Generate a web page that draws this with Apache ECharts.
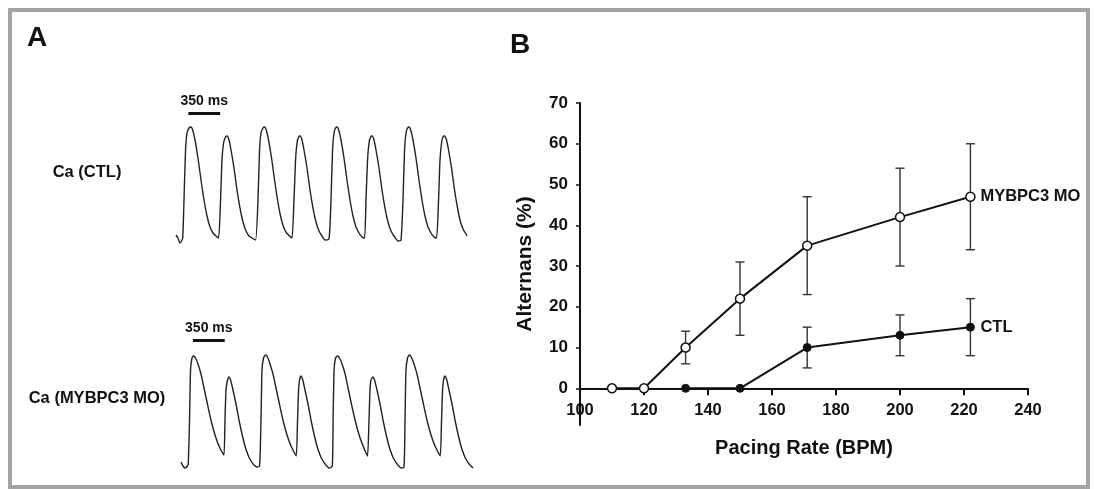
<!DOCTYPE html>
<html>
<head>
<meta charset="UTF-8">
<title>Alternans</title>
<script src="https://cdn.jsdelivr.net/npm/echarts@6/dist/echarts.min.js"></script>
<style>
  html, body { margin: 0; padding: 0; background: #fff; }
</style>
</head>
<body>
<div id="main" style="width:1094px; height:489px;"></div>
<script type="text/javascript">
// panel A: Ca transients, time in ms, fluorescence in arbitrary units
var ctlT = [11,33,55,72,85,
  99,116,132,154,176,198,220,253,286,319,352,385,418,451,479,
  501,517,534,556,572,594,616,649,682,715,748,781,814,847,886,
  913,930,946,968,985,1007,1029,1062,1095,1128,1161,1194,1227,1260,1287,
  1309,1326,1342,1359,1375,1397,1419,1452,1485,1518,1551,1584,1617,1650,1694,
  1716,1733,1749,1766,1782,1804,1826,1859,1892,1925,1958,1991,2024,2057,2085,
  2101,2118,2134,2151,2167,2189,2211,2244,2277,2310,2343,2376,2409,2453,2486,
  2508,2525,2541,2558,2574,2596,2618,2651,2684,2717,2750,2783,2816,2849,2877,
  2899,2915,2932,2948,2965,2987,3009,3042,3075,3108,3141,3174,3201,3212];
var ctlF = [9,6,1,3,6,
  44,94,111,116,117,113,104,86,64,44,28,17,11,8,6,
  44,84,101,107,108,104,94,76,54,36,22,13,8,6,4,
  44,94,111,116,117,113,104,86,64,44,28,17,11,8,6,
  44,84,101,107,108,104,94,76,54,36,22,13,8,4,5,
  44,94,111,116,117,113,104,86,64,44,28,17,11,7,6,
  44,84,101,107,108,104,94,76,54,36,22,13,8,3,4,
  44,94,111,116,117,113,104,86,64,44,28,17,11,7,6,
  44,84,101,107,108,104,94,76,54,36,22,14,10,8];

var moT = [66,88,110,138,146,
  160,171,187,204,226,253,286,319,352,385,418,451,484,517,539,
  550,561,578,594,611,638,671,704,737,770,803,836,869,902,930,
  946,957,974,996,1018,1045,1078,1111,1144,1177,1210,1243,1276,1309,1334,
  1348,1359,1370,1386,1403,1430,1463,1496,1529,1562,1595,1628,1661,1694,1730,
  1739,1750,1766,1788,1810,1838,1871,1904,1936,1970,2003,2036,2069,2096,2118,
  2134,2145,2156,2175,2195,2222,2255,2288,2321,2354,2387,2420,2453,2486,2519,
  2530,2541,2558,2577,2599,2629,2662,2695,2728,2761,2794,2827,2860,2893,2918,
  2932,2943,2954,2970,2987,3014,3047,3080,3113,3146,3179,3212,3245,3278];
var moF = [10,6,4,6,8,
  52,102,114,116,114,108,98,84,70,56,44,34,26,20,17,
  52,82,92,95,92,82,68,52,38,26,17,11,7,5,6,
  52,102,114,117,115,108,98,84,70,56,44,34,26,20,16,
  52,82,92,96,93,82,68,52,38,26,17,11,7,4,6,
  52,102,114,116,114,108,98,84,70,56,44,34,26,20,16,
  52,82,92,95,92,82,68,52,38,26,17,11,7,4,5,
  52,102,114,117,115,108,98,84,70,56,44,34,26,20,16,
  52,82,92,96,93,82,68,52,38,26,17,11,7,4];

// 350 ms scale bars [start, end, level]
var ctlBar = [147, 497, 131];
var moBar = [197, 547, 132];

// panel B: alternans vs pacing rate
var moRate = [110, 120, 133, 150, 171, 200, 222];
var moAlt  = [0, 0, 10, 22, 35, 42, 47];
var moSem  = [0, 0, 4, 9, 12, 12, 13];
var ctlRate = [133, 150, 171, 200, 222];
var ctlAlt  = [0, 0, 10, 13, 15];
var ctlSem  = [0, 0, 5, 5, 7];

var FONT = 'Liberation Sans, Arial, sans-serif';
var INK = '#111';

function zip(a, b) {
  var out = [];
  for (var i = 0; i < a.length; i++) out.push([a[i], b[i]]);
  return out;
}
function errData(rate, val, sem) {
  var out = [];
  for (var i = 0; i < rate.length; i++) {
    if (sem[i] > 0) out.push([rate[i], val[i] - sem[i], val[i] + sem[i]]);
  }
  return out;
}
function scaleLine(bar) {
  return {
    silent: true, symbol: 'none',
    lineStyle: { color: INK, width: 3, type: 'solid' },
    label: { show: true, position: 'middle', formatter: '350 ms', distance: 5,
      color: INK, fontFamily: FONT, fontWeight: 'bold', fontSize: 14 },
    data: [[{ coord: [bar[0], bar[2]] }, { coord: [bar[1], bar[2]] }]]
  };
}

var myChart = echarts.init(document.getElementById('main'));

var traceX = function (i) {
  return { gridIndex: i, type: 'value', min: 0, max: 3300, show: false };
};
var traceY = function (i) {
  return { gridIndex: i, type: 'value', min: 0, max: 140, show: false };
};

var errorItem = function (params, api) {
  var lo = api.coord([api.value(0), api.value(1)]);
  var hi = api.coord([api.value(0), api.value(2)]);
  var w = 4.5;
  var st = { stroke: '#333', lineWidth: 1.4 };
  return {
    type: 'group',
    children: [
      { type: 'line', shape: { x1: lo[0], y1: lo[1], x2: hi[0], y2: hi[1] }, style: st },
      { type: 'line', shape: { x1: lo[0] - w, y1: lo[1], x2: lo[0] + w, y2: lo[1] }, style: st },
      { type: 'line', shape: { x1: hi[0] - w, y1: hi[1], x2: hi[0] + w, y2: hi[1] }, style: st }
    ]
  };
};

var option = {
  animation: false,
  backgroundColor: '#fff',
  grid: [
    { left: 175, width: 300, top: 104, height: 140 },
    { left: 175, width: 300, top: 332, height: 140 },
    { left: 580, right: 66, top: 103, bottom: 100.7 },
    // short stub of the vertical axis below zero
    { left: 580, right: 66, top: 388, height: 37 }
  ],
  xAxis: [
    traceX(0), traceX(1),
    {
      gridIndex: 2, type: 'value', min: 100, max: 240, interval: 20,
      name: 'Pacing Rate (BPM)', nameLocation: 'middle', nameGap: 50,
      nameTextStyle: { color: INK, fontFamily: FONT, fontWeight: 'bold', fontSize: 20 },
      axisLine: { lineStyle: { color: INK, width: 2 } },
      axisTick: { show: true, length: 7, lineStyle: { color: INK, width: 2 } },
      axisLabel: { margin: 14, color: INK, fontFamily: FONT, fontWeight: 'bold', fontSize: 16.5 },
      splitLine: { show: false }
    },
    { gridIndex: 3, type: 'value', min: 100, max: 240, show: false }
  ],
  yAxis: [
    traceY(0), traceY(1),
    {
      gridIndex: 2, type: 'value', min: 0, max: 70, interval: 10,
      axisLine: { show: true, lineStyle: { color: INK, width: 2 } },
      axisTick: { show: true, length: 4, lineStyle: { color: INK, width: 1.5 } },
      axisLabel: { margin: 12, color: INK, fontFamily: FONT, fontWeight: 'bold', fontSize: 17 },
      splitLine: { show: false }
    },
    {
      gridIndex: 3, type: 'value', min: -9, max: 0,
      axisLine: { show: true, lineStyle: { color: INK, width: 2 } },
      axisTick: { show: false }, axisLabel: { show: false }, splitLine: { show: false }
    }
  ],
  graphic: [
    { type: 'rect', shape: { x: 10, y: 10, width: 1078, height: 477 },
      style: { fill: 'none', stroke: '#a4a4a4', lineWidth: 4 }, z: 100 },
    { type: 'text', x: 37, y: 38, style: { text: 'A', font: 'bold 28px ' + FONT, fill: INK, align: 'center', verticalAlign: 'middle' } },
    { type: 'text', x: 520, y: 45, style: { text: 'B', font: 'bold 28px ' + FONT, fill: INK, align: 'center', verticalAlign: 'middle' } },
    { type: 'text', x: 87, y: 172, style: { text: 'Ca (CTL)', font: 'bold 16.5px ' + FONT, fill: INK, align: 'center', verticalAlign: 'middle' } },
    { type: 'text', x: 97, y: 398, style: { text: 'Ca (MYBPC3 MO)', font: 'bold 16.5px ' + FONT, fill: INK, align: 'center', verticalAlign: 'middle' } },
    { type: 'text', x: 525.5, y: 264, rotation: Math.PI / 2,
      style: { text: 'Alternans (%)', font: 'bold 21px ' + FONT, fill: INK, align: 'center', verticalAlign: 'middle' } }
  ],
  series: [
    {
      name: 'Ca (CTL)', type: 'line', xAxisIndex: 0, yAxisIndex: 0,
      data: zip(ctlT, ctlF), symbol: 'none', smooth: 0.2,
      lineStyle: { color: '#222', width: 1.4 },
      markLine: scaleLine(ctlBar)
    },
    {
      name: 'Ca (MYBPC3 MO)', type: 'line', xAxisIndex: 1, yAxisIndex: 1,
      data: zip(moT, moF), symbol: 'none', smooth: 0.2,
      lineStyle: { color: '#222', width: 1.4 },
      markLine: scaleLine(moBar)
    },
    {
      name: 'MO err', type: 'custom', xAxisIndex: 2, yAxisIndex: 2,
      data: errData(moRate, moAlt, moSem), renderItem: errorItem, z: 2
    },
    {
      name: 'CTL err', type: 'custom', xAxisIndex: 2, yAxisIndex: 2,
      data: errData(ctlRate, ctlAlt, ctlSem), renderItem: errorItem, z: 2
    },
    {
      name: 'MYBPC3 MO', type: 'line', xAxisIndex: 2, yAxisIndex: 2,
      data: zip(moRate, moAlt), symbol: 'circle', symbolSize: 9, z: 4,
      lineStyle: { color: INK, width: 2 },
      itemStyle: { color: '#fff', borderColor: INK, borderWidth: 1.5 },
      endLabel: { show: true, formatter: 'MYBPC3 MO', distance: 10, color: INK,
        fontFamily: FONT, fontWeight: 'bold', fontSize: 16.5 }
    },
    {
      name: 'CTL', type: 'line', xAxisIndex: 2, yAxisIndex: 2,
      data: zip(ctlRate, ctlAlt), symbol: 'circle', symbolSize: 8, z: 3,
      lineStyle: { color: INK, width: 2 },
      itemStyle: { color: INK, borderColor: INK },
      endLabel: { show: true, formatter: 'CTL', distance: 10, color: INK,
        fontFamily: FONT, fontWeight: 'bold', fontSize: 16.5 }
    }
  ]
};

myChart.setOption(option);
</script>
</body>
</html>
